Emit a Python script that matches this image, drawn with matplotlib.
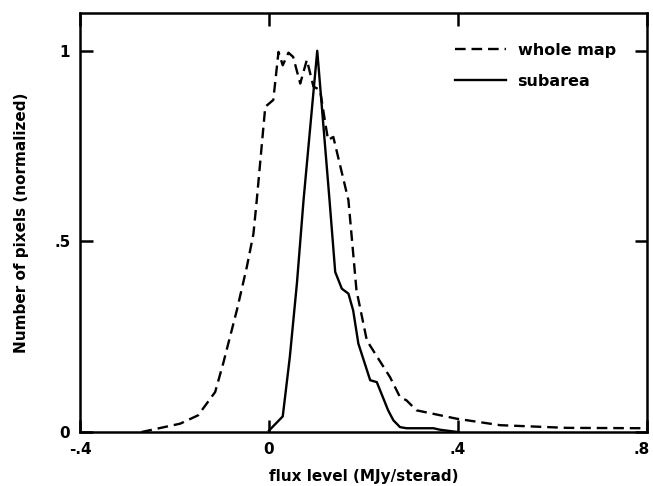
import matplotlib.pyplot as plt
from matplotlib.ticker import FuncFormatter
from matplotlib.lines import Line2D
from matplotlib.transforms import ScaledTranslation

# whole map histogram (normalized)
whole_x = [-0.27, -0.188, -0.15, -0.114, -0.097, -0.068, -0.047, -0.033, -0.026,
           -0.008, 0.009, 0.02, 0.029, 0.041, 0.051, 0.066, 0.08, 0.094, 0.108,
           0.119, 0.125, 0.136, 0.168, 0.185, 0.207, 0.256, 0.277, 0.291, 0.312,
           0.397, 0.489, 0.63, 0.8]
whole_y = [0.0, 0.022, 0.044, 0.105, 0.18, 0.32, 0.433, 0.52, 0.608,
           0.853, 0.871, 0.997, 0.962, 0.995, 0.984, 0.914, 0.976, 0.906, 0.897,
           0.81, 0.766, 0.774, 0.608, 0.372, 0.24, 0.144, 0.092, 0.083, 0.057,
           0.035, 0.018, 0.011, 0.01]

# subarea histogram (normalized)
sub_x = [0.0, 0.029, 0.044, 0.059, 0.073, 0.102, 0.128, 0.14, 0.154, 0.168,
         0.178, 0.189, 0.214, 0.228, 0.252, 0.263, 0.277, 0.291, 0.348, 0.362, 0.4]
sub_y = [0.004, 0.041, 0.197, 0.39, 0.608, 1.0, 0.608, 0.42, 0.376, 0.363,
         0.319, 0.232, 0.136, 0.131, 0.057, 0.031, 0.013, 0.01, 0.01, 0.006, 0.0]

xticks = [-0.4, 0, 0.4, 0.8]
yticks = [0, 0.5, 1]

plt.rcParams['font.family'] = 'DejaVu Sans'
plt.rcParams['font.weight'] = 'bold'

fig = plt.figure(figsize=(6.53, 4.86), dpi=100)
ax = fig.add_axes([0.1225, 0.111, 0.8685, 0.863])

dash = (0, (4.5, 2.5))
ax.plot(whole_x, whole_y, color='black', lw=1.7, linestyle=dash)
ax.plot(sub_x, sub_y, color='black', lw=1.7)

ax.set_xlim(-0.4, 0.8)
ax.set_ylim(0, 1.1)
ax.set_xticks(xticks)
ax.set_yticks(yticks)

def fmt(v, pos):
    if abs(v) < 1e-9:
        return '0'
    if abs(v - round(v)) < 1e-9:
        return str(int(round(v)))
    return f'{v:g}'.replace('0.', '.')

ax.xaxis.set_major_formatter(FuncFormatter(fmt))
ax.yaxis.set_major_formatter(FuncFormatter(fmt))
ax.tick_params(direction='in', length=9, width=1.8, top=True, right=True,
               labelsize=11, pad=7)
for sp in ax.spines.values():
    sp.set_linewidth(1.8)

# keep the last x label inside the figure
fig.canvas.draw()
last = ax.get_xticklabels()[-1]
last.set_transform(last.get_transform() + ScaledTranslation(-5 / 100, 0, fig.dpi_scale_trans))

ax.set_xlabel('flux level (MJy/sterad)', fontsize=11, fontweight='bold', labelpad=8.5)
ax.set_ylabel('Number of pixels (normalized)', fontsize=11, fontweight='bold', labelpad=18)

handles = [Line2D([], [], color='black', lw=1.7, linestyle=dash),
           Line2D([], [], color='black', lw=1.7)]
ax.legend(handles, ['whole map', 'subarea'], loc='upper right', frameon=False,
          fontsize=11.5, handlelength=3.2, handletextpad=0.7, labelspacing=1.0,
          bbox_to_anchor=(0.97, 0.963))

fig.savefig('out.png', dpi=100)
